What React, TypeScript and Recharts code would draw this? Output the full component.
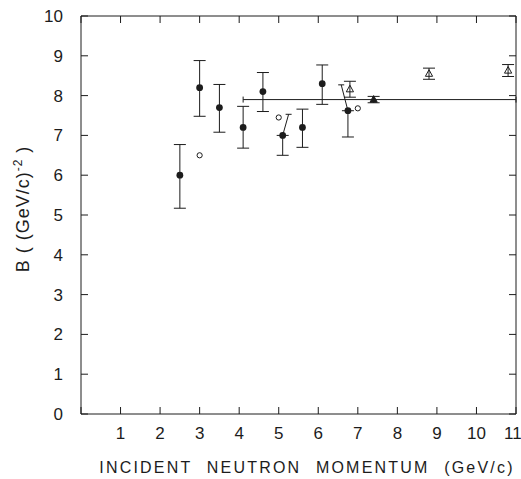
import React from 'react';
import { ScatterChart, Scatter, XAxis, YAxis, ErrorBar, ReferenceLine } from 'recharts';

const xTicks = [0, 1, 2, 3, 4, 5, 6, 7, 8, 9, 10, 11];
const yTicks = [0, 1, 2, 3, 4, 5, 6, 7, 8, 9, 10];
const xLabelTicks = xTicks.filter((t) => t > 0);

// filled circles: momentum (GeV/c), slope B, error below / above
const fullMomentum = [2.5, 3.0, 3.5, 4.1, 4.6, 5.1, 5.6, 6.1, 6.75];
const fullB = [6.0, 8.2, 7.7, 7.2, 8.1, 7.0, 7.2, 8.3, 7.62];
const fullErrDown = [0.83, 0.72, 0.62, 0.52, 0.5, 0.5, 0.5, 0.52, 0.66];
const fullErrUp = [0.77, 0.68, 0.58, 0.53, 0.48, 0, 0.46, 0.47, 0];

// upper error bars drawn slanted (from point to offset cap)
const slantFromX = [5.1, 6.75];
const slantFromY = [7.0, 7.62];
const slantToX = [5.25, 6.58];
const slantToY = [7.53, 8.27];

// open circles
const openMomentum = [3.0, 5.0, 7.0];
const openB = [6.5, 7.45, 7.68];

// open triangles
const triMomentum = [6.8, 8.8, 10.8];
const triB = [8.16, 8.55, 8.63];
const triErr = [0.2, 0.14, 0.15];

// filled triangle
const fullTriMomentum = [7.4];
const fullTriB = [7.9];
const fullTriErr = [0.08];

// average over momentum range
const avgB = 7.9;
const avgFrom = 4.1;
const avgTo = 11.0;

const INK = '#1c1c1c';
const FONT = '"Liberation Sans", Arial, sans-serif';

const xMin = xTicks[0];
const xMax = xTicks[xTicks.length - 1];
const yMin = yTicks[0];
const yMax = yTicks[yTicks.length - 1];

const fullData = fullMomentum.map((x, i) => ({ x, y: fullB[i], err: [fullErrDown[i], fullErrUp[i]] }));
const openData = openMomentum.map((x, i) => ({ x, y: openB[i] }));
const triData = triMomentum.map((x, i) => ({ x, y: triB[i], err: triErr[i] }));
const fullTriData = fullTriMomentum.map((x, i) => ({ x, y: fullTriB[i], err: fullTriErr[i] }));
const capData = slantToX.map((x, i) => ({ x, y: slantToY[i] }));
const avgEnds = [{ x: avgFrom, y: avgB }, { x: avgTo, y: avgB }];

// tick anchors on each side of the frame
const bottomTicks = xTicks.map((x) => ({ x, y: yMin }));
const topTicks = xTicks.map((x) => ({ x, y: yMax }));
const leftTicks = yTicks.map((y) => ({ x: xMin, y }));
const rightTicks = yTicks.map((y) => ({ x: xMax, y }));

const DotShape = (p: any) => <circle cx={p.cx} cy={p.cy} r={3.4} fill={INK} />;
const RingShape = (p: any) => <circle cx={p.cx} cy={p.cy} r={2.6} fill="#fff" stroke={INK} strokeWidth={1} />;
const triShape = (filled: boolean) => (p: any) => (
  <polygon
    points={`${p.cx},${p.cy - 4} ${p.cx - 3.6},${p.cy + 2.6} ${p.cx + 3.6},${p.cy + 2.6}`}
    fill={filled ? INK : 'none'}
    stroke={INK}
    strokeWidth={1}
  />
);
const CapShape = (p: any) => <line x1={p.cx - 3} x2={p.cx + 3} y1={p.cy} y2={p.cy} stroke={INK} strokeWidth={1} />;
const VCapShape = (p: any) => <line x1={p.cx} x2={p.cx} y1={p.cy - 3} y2={p.cy + 3} stroke={INK} strokeWidth={1} />;
// tick mark pointing into the plot: dx, dy give direction
const tickShape = (dx: number, dy: number) => (p: any) => (
  <line x1={p.cx} y1={p.cy} x2={p.cx + dx * 7} y2={p.cy + dy * 7} stroke={INK} strokeWidth={1} />
);
const tickUp = tickShape(0, -1);
const tickDown = tickShape(0, 1);
const tickRight = tickShape(1, 0);
const tickLeft = tickShape(-1, 0);

export default function App() {
  return (
    <div
      style={{
        position: 'absolute',
        left: 0,
        top: 0,
        width: 521,
        height: 479,
        background: '#fff',
        fontFamily: FONT,
        fontSize: 17,
      }}
    >
      <ScatterChart width={521} height={479} margin={{ top: 16, right: 5, left: 0, bottom: 0 }}>
        <XAxis
          type="number"
          dataKey="x"
          domain={[xMin, xMax]}
          ticks={xLabelTicks}
          height={65}
          stroke={INK}
          tickMargin={7}
          tickLine={{ stroke: '#fff', strokeOpacity: 0 }}
        />
        <YAxis
          type="number"
          dataKey="y"
          domain={[yMin, yMax]}
          ticks={yTicks}
          width={81}
          stroke={INK}
          tickMargin={12}
          tickLine={{ stroke: '#fff', strokeOpacity: 0 }}
        />

        <Scatter data={fullData} shape={DotShape} isAnimationActive={false}>
          <ErrorBar dataKey="err" direction="y" width={6} stroke={INK} strokeWidth={1} />
        </Scatter>
        <Scatter data={capData} shape={CapShape} isAnimationActive={false} />
        <Scatter data={openData} shape={RingShape} isAnimationActive={false} />
        <Scatter data={triData} shape={triShape(false)} isAnimationActive={false}>
          <ErrorBar dataKey="err" direction="y" width={6} stroke={INK} strokeWidth={1} />
        </Scatter>
        <Scatter data={fullTriData} shape={triShape(true)} isAnimationActive={false}>
          <ErrorBar dataKey="err" direction="y" width={6} stroke={INK} strokeWidth={1} />
        </Scatter>
        {slantFromX.map((x, i) => (
          <ReferenceLine
            key={`s${i}`}
            segment={[{ x, y: slantFromY[i] }, { x: slantToX[i], y: slantToY[i] }]}
            stroke={INK}
            strokeWidth={1}
            ifOverflow="visible"
          />
        ))}

        {/* average value bar with end caps */}
        <ReferenceLine
          segment={[{ x: avgFrom, y: avgB }, { x: avgTo, y: avgB }]}
          stroke={INK}
          strokeWidth={1}
          ifOverflow="visible"
        />
        <Scatter data={avgEnds} shape={VCapShape} isAnimationActive={false} />

        {/* frame: top and right borders, inward ticks */}
        <ReferenceLine
          segment={[{ x: xMin, y: yMax }, { x: xMax, y: yMax }]}
          stroke={INK}
          strokeWidth={1}
          ifOverflow="visible"
        />
        <ReferenceLine
          segment={[{ x: xMax, y: yMin }, { x: xMax, y: yMax }]}
          stroke={INK}
          strokeWidth={1}
          ifOverflow="visible"
        />
        <Scatter data={bottomTicks} shape={tickUp} isAnimationActive={false} />
        <Scatter data={topTicks} shape={tickDown} isAnimationActive={false} />
        <Scatter data={leftTicks} shape={tickRight} isAnimationActive={false} />
        <Scatter data={rightTicks} shape={tickLeft} isAnimationActive={false} />
      </ScatterChart>

      {/* axis titles */}
      <svg
        width={521}
        height={479}
        style={{ position: 'absolute', left: 0, top: 0, pointerEvents: 'none' }}
      >
        <text
          x={307}
          y={473}
          textAnchor="middle"
          fill={INK}
          fontSize={16}
          fontFamily={FONT}
          letterSpacing={2.2}
          wordSpacing={8}
        >
          INCIDENT NEUTRON MOMENTUM (GeV/c)
        </text>
        <text
          x={0}
          y={0}
          transform="translate(29 209) rotate(-90)"
          textAnchor="middle"
          fill={INK}
          fontSize={18}
          fontFamily={FONT}
          letterSpacing={1}
        >
          B ( (GeV/c)
          <tspan fontSize={12} dy={-7}>-2</tspan>
          <tspan dy={7}> )</tspan>
        </text>
      </svg>
    </div>
  );
}
